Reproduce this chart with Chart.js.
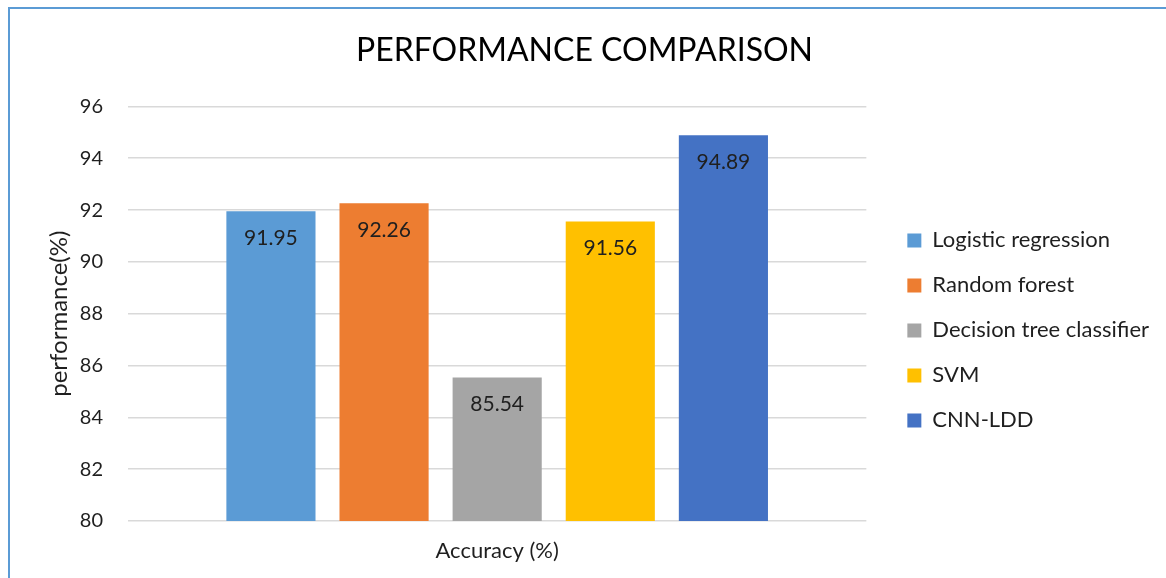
<!DOCTYPE html>
<html>
<head>
<meta charset="utf-8">
<script src="https://cdn.jsdelivr.net/npm/chart.js@4.4.0/dist/chart.umd.min.js"></script>
<style>
    html, body { margin: 0; padding: 0; background: #fff; }
    body { width: 1166px; height: 578px; position: relative; overflow: hidden; }
    .frame {
        position: absolute; left: 8px; top: 7px; right: 0; bottom: 0;
        border-top: 2px solid #5b9bd5;
        border-left: 2px solid #5b9bd5;
    }
    .chart-box { position: absolute; left: 10px; top: 9px; width: 1156px; height: 569px; }
</style>
</head>
<body>
<div class="frame"></div>
<div class="chart-box"><canvas id="perfChart"></canvas></div>
<script>
// Chart data
const categories = ['Accuracy (%)'];
const models = ['Logistic regression', 'Random forest', 'Decision tree classifier', 'SVM', 'CNN-LDD'];
const accuracy = [91.95, 92.26, 85.54, 91.56, 94.89];
const barColors = ['#5b9bd5', '#ed7d31', '#a5a5a5', '#ffc000', '#4472c4'];
const yTicks = [80, 82, 84, 86, 88, 90, 92, 94, 96];

const FONT = 'Lato, Calibri, "Noto Sans", sans-serif';
const TEXT = '#1f1f1f';

// Value labels inside the top of each bar
const barLabels = {
    id: 'barLabels',
    afterDatasetsDraw(chart) {
        const ctx = chart.ctx;
        ctx.save();
        ctx.font = '21px ' + FONT;
        ctx.fillStyle = TEXT;
        ctx.textAlign = 'center';
        ctx.textBaseline = 'middle';
        chart.data.datasets.forEach((ds, i) => {
            chart.getDatasetMeta(i).data.forEach((bar, j) => {
                ctx.fillText(ds.data[j].toFixed(2), bar.x, bar.y + 27);
            });
        });
        ctx.restore();
    }
};

document.addEventListener('DOMContentLoaded', function() {
    const ctx = document.getElementById('perfChart');
    new Chart(ctx, {
        type: 'bar',
        data: {
            labels: categories,
            datasets: models.map((name, i) => ({
                label: name,
                data: [accuracy[i]],
                backgroundColor: barColors[i],
                borderWidth: 0
            }))
        },
        options: {
            responsive: true,
            maintainAspectRatio: false,
            animation: false,
            layout: { padding: { left: 0, right: 7, top: 0, bottom: 13 } },
            datasets: {
                bar: { categoryPercentage: 0.766, barPercentage: 0.788 }
            },
            plugins: {
                title: {
                    display: true,
                    text: 'PERFORMANCE COMPARISON',
                    color: '#000',
                    font: { family: FONT, size: 32, weight: 'normal' },
                    padding: { top: 22, bottom: 37 }
                },
                legend: {
                    display: true,
                    position: 'right',
                    align: 'start',
                    fullSize: false,
                    title: { display: true, text: '', font: { size: 10 }, padding: 44 },
                    labels: {
                        boxWidth: 14,
                        boxHeight: 14,
                        padding: 23,
                        color: TEXT,
                        font: { family: FONT, size: 22 }
                    }
                },
                tooltip: { enabled: false }
            },
            scales: {
                x: {
                    grid: { display: false, drawTicks: false },
                    border: { display: false },
                    ticks: {
                        color: TEXT,
                        padding: 17,
                        font: { family: FONT, size: 22 }
                    },
                    afterFit: scale => { scale.height = 44; }
                },
                y: {
                    min: yTicks[0],
                    max: yTicks[yTicks.length - 1],
                    afterBuildTicks: axis => { axis.ticks = yTicks.map(v => ({ value: v })); },
                    grid: { color: '#d9d9d9', lineWidth: 1.5, drawTicks: false },
                    border: { display: false },
                    ticks: {
                        color: TEXT,
                        padding: 25,
                        font: { family: FONT, size: 20 }
                    },
                    title: {
                        display: true,
                        text: 'performance(%)',
                        color: TEXT,
                        font: { family: FONT, size: 24 },
                        padding: { top: 35, bottom: 3 }
                    },
                    afterFit: scale => { scale.width = 118; }
                },
                // hidden spacer between plot area and legend
                gap: {
                    position: 'right',
                    display: false,
                    afterFit: scale => { scale.width = 18; }
                }
            }
        },
        plugins: [barLabels]
    });
});
</script>
</body>
</html>
